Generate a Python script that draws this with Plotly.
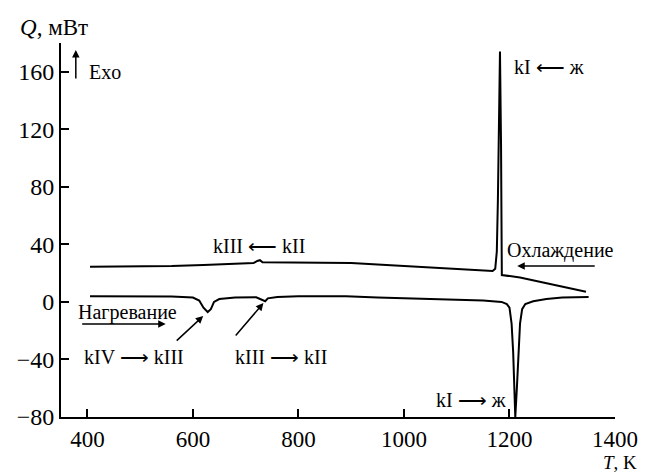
import plotly.graph_objects as go

# Cooling curve (upper), T in K, Q in mW
cool_T = [405, 500, 560, 620, 680, 715, 722, 727, 732, 750, 800, 850, 900, 950, 1000,
          1050, 1100, 1150, 1168, 1173, 1176, 1178, 1180, 1182, 1184, 1185, 1185.5,
          1220, 1270, 1320, 1345]
cool_Q = [24.5, 24.5, 25, 25.7, 26.5, 27, 28.5, 29, 27.5, 27.5, 27.5, 27.3, 27, 26, 25,
          24, 23, 22, 21.5, 23, 35, 70, 130, 174, 110, 40, 18.7,
          17, 13, 9.5, 7]

# Heating curve (lower)
heat_T = [405, 500, 560, 600, 612, 620, 628, 634, 640, 650, 680, 720, 732, 737, 742, 760,
          800, 850, 890, 950, 1000, 1050, 1100, 1150, 1185, 1195, 1200, 1204, 1207, 1209,
          1211, 1214, 1217, 1220, 1224, 1230, 1245, 1270, 1300, 1350]
heat_Q = [4, 4, 3.8, 3, 1, -4, -7, -5, 0, 2, 3, 3.2, 1, 0.5, 2.5, 3.5,
          4, 4.2, 4, 3, 2.3, 2, 1.5, 1, 0, -1.5, -4, -15, -35, -60,
          -80, -60, -35, -15, -5, -1.5, 0.5, 2, 3, 3.5]

x_ticks = [400, 600, 800, 1000, 1200, 1400]
y_ticks = [-80, -40, 0, 40, 80, 120, 160]

FONT = "Liberation Serif, Times New Roman, serif"
L, R, T, B = 61, 622, 43, 417
W, H = R - L, B - T


def px(x):
    return (x - L) / W


def py(y):
    return (B - y) / H


fig = go.Figure()
for xs, ys in [(cool_T, cool_Q), (heat_T, heat_Q)]:
    fig.add_trace(go.Scatter(x=xs, y=ys, mode="lines",
                             line=dict(color="black", width=2),
                             hoverinfo="skip", showlegend=False))

texts = [
    ("<i>Q</i>, мВт", 17, 27, "left", 23),
    ("Exo", 87, 72, "left", 20),
    ("kIII ⟵ kII", 262, 246, "center", 20),
    ("Нагревание", 128, 312, "center", 20),
    ("kIV ⟶ kIII", 135, 357, "center", 20),
    ("kIII ⟶ kII", 284, 357, "center", 20),
    ("kI ⟵ ж", 555, 67, "center", 20),
    ("Охлаждение", 567, 250, "center", 20),
    ("kI ⟶ ж", 476, 400, "center", 20),
    ("<i>T</i>, K", 646, 462, "right", 19),
]
annotations = []
for t, x, y, xa, fs in texts:
    annotations.append(dict(text=t, x=px(x), y=py(y), xref="paper", yref="paper",
                            xanchor=xa, yanchor="middle", showarrow=False,
                            font=dict(family=FONT, size=fs, color="black")))

arrows = [
    (76, 50, 0, 30),
    (167, 324, -85, 0),
    (205, 316, -28, 26),
    (266, 303, -29, 34),
    (523, 266, 79, 0),
]
for x, y, ax, ay in arrows:
    annotations.append(dict(text="", x=px(x), y=py(y), xref="paper", yref="paper",
                            ax=ax, ay=ay, showarrow=True, arrowhead=2, arrowsize=1,
                            arrowwidth=1.5, arrowcolor="black"))

fig.update_layout(
    width=650, height=473,
    margin=dict(l=L, r=650 - R, t=T, b=473 - B),
    paper_bgcolor="white", plot_bgcolor="white",
    font=dict(family=FONT, size=24, color="black"),
    annotations=annotations,
    xaxis=dict(range=[350, 1400], tickvals=x_ticks, showgrid=False, zeroline=False,
               showline=True, linecolor="black", linewidth=2, ticks="inside",
               ticklen=8, tickwidth=1.5, tickcolor="black",
               tickfont=dict(family=FONT, size=23, color="black")),
    yaxis=dict(range=[-80, 180], tickvals=y_ticks, showgrid=False, zeroline=False,
               showline=True, linecolor="black", linewidth=2, ticks="inside",
               ticklen=8, tickwidth=1.5, tickcolor="black",
               tickfont=dict(family=FONT, size=24, color="black")),
)

fig.write_html("out.html", config={"displayModeBar": False})
